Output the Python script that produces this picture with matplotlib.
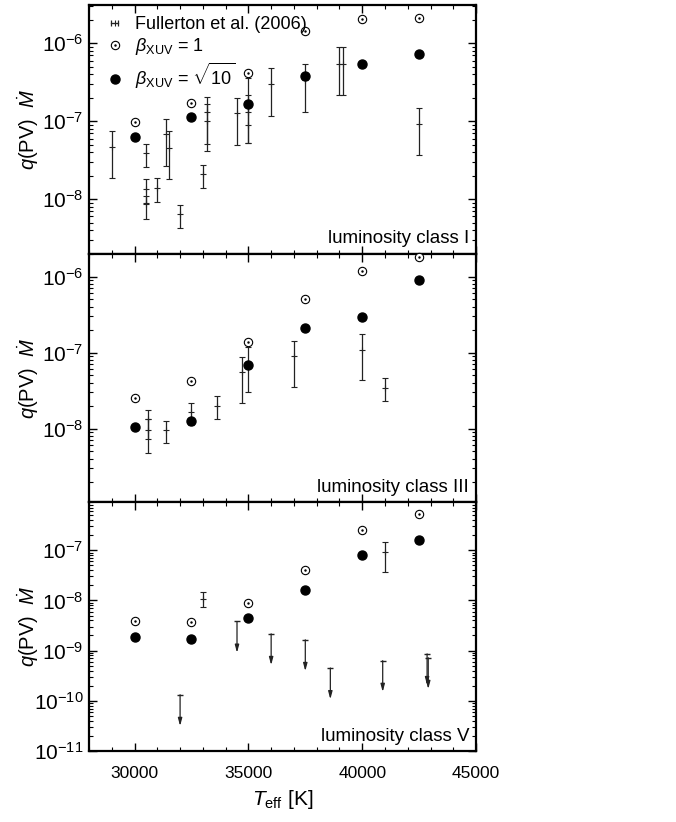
import matplotlib
matplotlib.use("Agg")
import matplotlib.pyplot as plt
from matplotlib.lines import Line2D
from matplotlib.ticker import LogLocator, MultipleLocator, NullFormatter
from matplotlib.legend_handler import HandlerTuple, HandlerLine2D

plt.rcParams['font.family'] = ['Liberation Sans', 'DejaVu Sans']
plt.rcParams['mathtext.fontset'] = 'custom'
plt.rcParams['mathtext.rm'] = 'Liberation Sans'
plt.rcParams['mathtext.it'] = 'Liberation Sans:italic'
plt.rcParams['mathtext.bf'] = 'Liberation Sans:bold'
plt.rcParams['axes.unicode_minus'] = False

# model grid temperatures
teff_model = [30000, 32500, 35000, 37500, 40000, 42500]

# luminosity class I
beta1_I = [9.8e-8, 1.7e-7, 4.1e-7, 1.44e-6, 2.05e-6, 2.1e-6]
beta10_I = [6.2e-8, 1.14e-7, 1.67e-7, 3.85e-7, 5.5e-7, 7.2e-7]
obs_teff_I = [29000, 30500, 30500, 30500, 31000, 31400, 31500, 32000, 33000,
              33200, 33200, 34500, 35000, 35000, 36000, 37500, 39000, 39150, 42500]
obs_val_I = [4.7e-8, 3.9e-8, 1.35e-8, 8.7e-9, 1.4e-8, 6.9e-8, 4.6e-8, 6.5e-9, 2.1e-8,
             1.3e-7, 1.02e-7, 1.27e-7, 1.32e-7, 9.0e-8, 3.0e-7, 3.4e-7, 5.5e-7, 5.5e-7, 9.2e-8]
obs_lo_I = [1.86e-8, 2.6e-8, 9.0e-9, 5.5e-9, 9.2e-9, 2.67e-8, 1.82e-8, 4.3e-9, 1.41e-8,
            5.1e-8, 4.1e-8, 5.0e-8, 5.2e-8, 5.2e-8, 1.18e-7, 1.33e-7, 2.2e-7, 2.2e-7, 3.66e-8]
obs_hi_I = [7.5e-8, 5.1e-8, 1.8e-8, 1.1e-8, 1.86e-8, 1.08e-7, 7.4e-8, 8.5e-9, 2.78e-8,
            2.07e-7, 1.65e-7, 2.0e-7, 3.6e-7, 2.2e-7, 4.8e-7, 5.4e-7, 8.9e-7, 8.9e-7, 1.47e-7]

# luminosity class III
beta1_III = [2.56e-8, 4.2e-8, 1.37e-7, 5.0e-7, 1.19e-6, 1.83e-6]
beta10_III = [1.04e-8, 1.27e-8, 6.8e-8, 2.11e-7, 2.98e-7, 8.9e-7]
obs_teff_III = [30600, 30600, 31400, 32500, 33600, 34700, 35000, 37000, 40000, 41000]
obs_val_III = [1.33e-8, 9.5e-9, 9.5e-9, 1.64e-8, 2.0e-8, 5.5e-8, 7.0e-8, 8.9e-8, 1.09e-7, 3.46e-8]
obs_lo_III = [7.2e-9, 4.8e-9, 6.4e-9, 1.12e-8, 1.33e-8, 2.18e-8, 3.07e-8, 3.57e-8, 4.3e-8, 2.31e-8]
obs_hi_III = [1.78e-8, 1.33e-8, 1.27e-8, 2.2e-8, 2.66e-8, 8.8e-8, 1.2e-7, 1.44e-7, 1.76e-7, 4.6e-8]

# luminosity class V
beta1_V = [3.87e-9, 3.7e-9, 8.8e-9, 4.0e-8, 2.54e-7, 5.2e-7]
beta10_V = [1.83e-9, 1.7e-9, 4.4e-9, 1.63e-8, 8.1e-8, 1.61e-7]
obs_teff_V = [33000, 41000]
obs_val_V = [1.09e-8, 9.3e-8]
obs_lo_V = [7.3e-9, 3.65e-8]
obs_hi_V = [1.46e-8, 1.47e-7]
# upper limits (arrows)
lim_teff_V = [32000, 34500, 36000, 37500, 38600, 40900, 42850, 42900]
lim_val_V = [1.32e-10, 3.8e-9, 2.16e-9, 1.64e-9, 4.5e-10, 6.3e-10, 8.6e-10, 7.2e-10]

panels = [
    ("luminosity class I", beta1_I, beta10_I, obs_teff_I, obs_val_I, obs_lo_I, obs_hi_I, (2e-9, 3.1e-6)),
    ("luminosity class III", beta1_III, beta10_III, obs_teff_III, obs_val_III, obs_lo_III, obs_hi_III, (1.07e-9, 2e-6)),
    ("luminosity class V", beta1_V, beta10_V, obs_teff_V, obs_val_V, obs_lo_V, obs_hi_V, (1e-11, 9e-7)),
]

fig = plt.figure(figsize=(6.76, 8.22), dpi=100)
left, width = 0.1317, 0.5725
h = 0.3025
bottoms = [0.0864 + 2 * h, 0.0864 + h, 0.0864]
ecol = '#222222'

for i, (label, b1, b10, tobs, vobs, lo, hi, ylim) in enumerate(panels):
    ax = fig.add_axes([left, bottoms[i], width, h])
    yerr = [[v - l for v, l in zip(vobs, lo)], [u - v for v, u in zip(vobs, hi)]]
    ax.errorbar(tobs, vobs, yerr=yerr, fmt='+', color=ecol, ms=4, mew=0.8,
                elinewidth=0.9, capsize=2.2, capthick=0.9)
    op, = ax.plot(teff_model, b1, 'o', mfc='white', mec='black', ms=6, mew=0.8,
                  clip_on=False, zorder=4)
    dot, = ax.plot(teff_model, b1, '.', color='black', ms=1.5, clip_on=False, zorder=5)
    fl, = ax.plot(teff_model, b10, 'o', color='black', ms=6.5, clip_on=False, zorder=4)

    if label == "luminosity class V":
        for t, v in zip(lim_teff_V, lim_val_V):
            ax.annotate('', xy=(t, v / 4.2), xytext=(t, v),
                        arrowprops=dict(arrowstyle='-|>,head_length=0.45,head_width=0.12',
                                        color=ecol, lw=0.9, shrinkA=0, shrinkB=0))
        ax.plot(lim_teff_V, lim_val_V, '_', color=ecol, ms=5, mew=1.0)

    ax.set_yscale('log')
    ax.set_ylim(*ylim)
    ax.set_xlim(28000, 45000)
    ax.xaxis.set_major_locator(MultipleLocator(5000))
    ax.xaxis.set_minor_locator(MultipleLocator(1000))
    ax.yaxis.set_major_locator(LogLocator(base=10, numticks=20))
    ax.yaxis.set_minor_locator(LogLocator(base=10, subs=range(2, 10), numticks=20))
    ax.yaxis.set_minor_formatter(NullFormatter())
    ax.tick_params(which='both', direction='in', top=True, right=True)
    ax.tick_params(axis='y', labelsize=15, pad=4)
    ax.tick_params(axis='x', labelsize=12.5, pad=11)
    ax.tick_params(which='major', length=6, width=1)
    ax.tick_params(which='minor', length=3, width=0.8)
    for s in ax.spines.values():
        s.set_linewidth(1.6)
    ax.set_ylabel(r'$q$(PV)  $\dot{M}$', fontsize=14.5)
    ax.yaxis.set_label_coords(-0.125, 0.5)
    ax.text(0.982, 0.025, label, transform=ax.transAxes, ha='right', va='bottom',
            fontsize=13.5)
    if i < 2:
        ax.tick_params(labelbottom=False)
    else:
        ax.set_xlabel(r'$T_{\rm eff}$ [K]', fontsize=15, labelpad=5)

    if i == 0:
        cap_proxy = Line2D([], [], color=ecol, lw=0.9, marker='|', ms=5, mew=0.9)
        plus_proxy = Line2D([], [], color=ecol, lw=0, marker='+', ms=4, mew=0.8)
        ax.legend([(cap_proxy, plus_proxy), (op, dot), fl],
                  ['Fullerton et al. (2006)', r'$\beta_{\rm XUV}$ = 1',
                   r'$\beta_{\rm XUV}$ = $\sqrt{10}$'],
                  handler_map={tuple: HandlerTuple(ndivide=1),
                               cap_proxy: HandlerLine2D(numpoints=2)},
                  loc='upper left', frameon=False, fontsize=13, handlelength=1.0,
                  handletextpad=0.6, labelspacing=0.2, borderaxespad=0.2,
                  bbox_to_anchor=(0.015, 1.0))

fig.savefig('out.png', dpi=100)
